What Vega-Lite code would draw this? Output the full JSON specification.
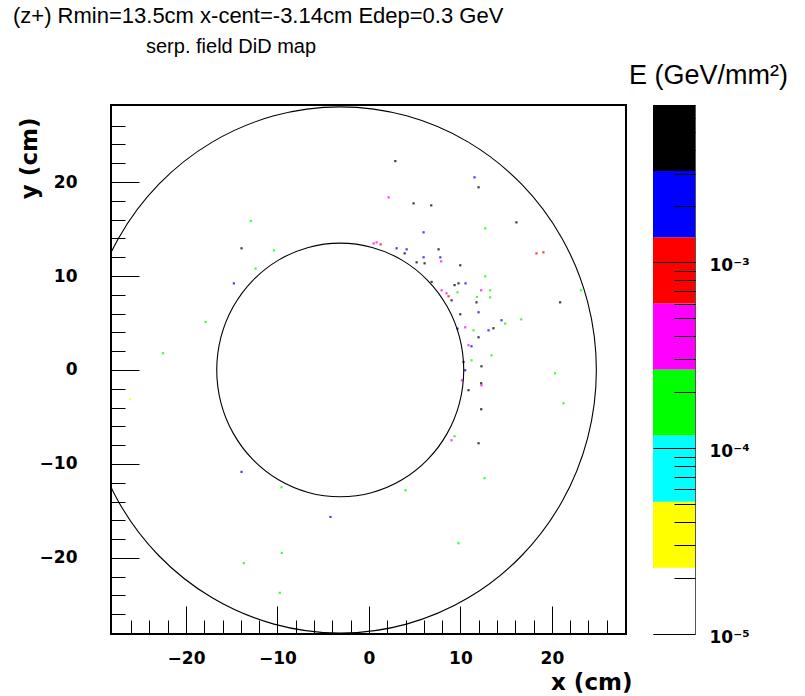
{
  "$schema": "https://vega.github.io/schema/vega-lite/v6.json",
  "background": "white",
  "padding": {"left": 12, "top": 5, "right": 5, "bottom": 0},
  "title": {"text": "(z+) Rmin=13.5cm x-cent=-3.14cm Edep=0.3 GeV", "anchor": "start", "dx": -4, "offset": 8, "fontSize": 22, "font": "Liberation Sans", "fontWeight": "normal", "color": "black"},
  "spacing": -5,
  "resolve": {"scale": {"color": "independent"}},
  "datasets": {
    "circles": [
      {"c": "in", "i": 0, "x": 10.36, "y": 0}, {"c": "in", "i": 1, "x": 9.9, "y": 3.494}, {"c": "in", "i": 2, "x": 8.551, "y": 6.75}, {"c": "in", "i": 3, "x": 6.406, "y": 9.546},
      {"c": "in", "i": 4, "x": 3.61, "y": 11.691}, {"c": "in", "i": 5, "x": 0.354, "y": 13.04}, {"c": "in", "i": 6, "x": -3.14, "y": 13.5}, {"c": "in", "i": 7, "x": -6.634, "y": 13.04},
      {"c": "in", "i": 8, "x": -9.89, "y": 11.691}, {"c": "in", "i": 9, "x": -12.686, "y": 9.546}, {"c": "in", "i": 10, "x": -14.831, "y": 6.75}, {"c": "in", "i": 11, "x": -16.18, "y": 3.494},
      {"c": "in", "i": 12, "x": -16.64, "y": 0}, {"c": "in", "i": 13, "x": -16.18, "y": -3.494}, {"c": "in", "i": 14, "x": -14.831, "y": -6.75}, {"c": "in", "i": 15, "x": -12.686, "y": -9.546},
      {"c": "in", "i": 16, "x": -9.89, "y": -11.691}, {"c": "in", "i": 17, "x": -6.634, "y": -13.04}, {"c": "in", "i": 18, "x": -3.14, "y": -13.5}, {"c": "in", "i": 19, "x": 0.354, "y": -13.04},
      {"c": "in", "i": 20, "x": 3.61, "y": -11.691}, {"c": "in", "i": 21, "x": 6.406, "y": -9.546}, {"c": "in", "i": 22, "x": 8.551, "y": -6.75}, {"c": "in", "i": 23, "x": 9.9, "y": -3.494},
      {"c": "out", "i": 0, "x": 24.86, "y": 0}, {"c": "out", "i": 1, "x": 23.906, "y": 7.247}, {"c": "out", "i": 2, "x": 21.109, "y": 14}, {"c": "out", "i": 3, "x": 16.659, "y": 19.799},
      {"c": "out", "i": 4, "x": 10.86, "y": 24.249}, {"c": "out", "i": 5, "x": 4.107, "y": 27.046}, {"c": "out", "i": 6, "x": -3.14, "y": 28}, {"c": "out", "i": 7, "x": -10.387, "y": 27.046},
      {"c": "out", "i": 8, "x": -17.14, "y": 24.249}, {"c": "out", "i": 9, "x": -22.939, "y": 19.799}, {"c": "out", "i": 10, "x": -27.389, "y": 14}, {"c": "out", "i": 11, "x": -30.186, "y": 7.247},
      {"c": "out", "i": 12, "x": -31.14, "y": 0}, {"c": "out", "i": 13, "x": -30.186, "y": -7.247}, {"c": "out", "i": 14, "x": -27.389, "y": -14}, {"c": "out", "i": 15, "x": -22.939, "y": -19.799},
      {"c": "out", "i": 16, "x": -17.14, "y": -24.249}, {"c": "out", "i": 17, "x": -10.387, "y": -27.046}, {"c": "out", "i": 18, "x": -3.14, "y": -28}, {"c": "out", "i": 19, "x": 4.107, "y": -27.046},
      {"c": "out", "i": 20, "x": 10.86, "y": -24.249}, {"c": "out", "i": 21, "x": 16.659, "y": -19.799}, {"c": "out", "i": 22, "x": 21.109, "y": -14}, {"c": "out", "i": 23, "x": 23.906, "y": -7.247}
    ],
    "hits": [
      {"x": 2.88, "y": 22.23, "e": 0.004}, {"x": 11.54, "y": 20.5, "e": 0.002}, {"x": 11.98, "y": 19.44, "e": 0.004}, {"x": 2.15, "y": 18.37, "e": 0.0004},
      {"x": 4.88, "y": 17.73, "e": 0.004}, {"x": 6.81, "y": 17.52, "e": 0.004}, {"x": 5.97, "y": 14.65, "e": 0.002}, {"x": 12.71, "y": 15.07, "e": 0.00015},
      {"x": 16.12, "y": 15.71, "e": 0.004}, {"x": 0.51, "y": 13.47, "e": 0.0004}, {"x": 0.84, "y": 13.58, "e": 0.0004}, {"x": 1.28, "y": 13.37, "e": 0.001},
      {"x": 3.02, "y": 12.95, "e": 0.002}, {"x": 3.9, "y": 12.41, "e": 0.004}, {"x": 4.12, "y": 12.84, "e": 0.002}, {"x": 5.21, "y": 11.46, "e": 0.004},
      {"x": 5.97, "y": 11.99, "e": 0.002}, {"x": 6.08, "y": 11.35, "e": 0.004}, {"x": 7.61, "y": 12.84, "e": 0.004}, {"x": 7.8, "y": 11.99, "e": 0.002},
      {"x": 7.9, "y": 11.56, "e": 0.0004}, {"x": 9.98, "y": 11.14, "e": 0.004}, {"x": 18.31, "y": 12.41, "e": 0.001}, {"x": 19.07, "y": 12.52, "e": 0.001},
      {"x": 12.71, "y": 9.97, "e": 0.0002}, {"x": 7.94, "y": 8.48, "e": 0.0004}, {"x": 8.48, "y": 8.16, "e": 0.0004}, {"x": 9.03, "y": 7.41, "e": 0.004},
      {"x": 8.7, "y": 7.84, "e": 0.001}, {"x": 9.68, "y": 8.27, "e": 0.0002}, {"x": 9.79, "y": 9.22, "e": 0.004}, {"x": 10.56, "y": 9.22, "e": 0.002},
      {"x": 12.27, "y": 8.48, "e": 0.0004}, {"x": 13.25, "y": 8.48, "e": 0.00015}, {"x": 13.25, "y": 7.73, "e": 0.0002}, {"x": 11.76, "y": 7.2, "e": 0.004},
      {"x": 9.98, "y": 5.93, "e": 0.004}, {"x": 11.98, "y": 6.14, "e": 0.002}, {"x": 16.64, "y": 5.39, "e": 0.0002}, {"x": 20.9, "y": 7.2, "e": 0.004},
      {"x": 14.49, "y": 5.29, "e": 0.002}, {"x": 10.52, "y": 4.54, "e": 0.0004}, {"x": 11.43, "y": 4.22, "e": 0.00015}, {"x": 11.98, "y": 3.48, "e": 0.004},
      {"x": 13.07, "y": 4.22, "e": 0.002}, {"x": 13.61, "y": 4.44, "e": 0.004}, {"x": 10.88, "y": 2.63, "e": 0.0004}, {"x": 11.21, "y": 2.52, "e": 0.002},
      {"x": 13.39, "y": 1.56, "e": 0.0002}, {"x": 11.21, "y": 1.03, "e": 0.00015}, {"x": 12.3, "y": 0.39, "e": 0.004}, {"x": 20.35, "y": -0.35, "e": 0.00015},
      {"x": 23.19, "y": 8.48, "e": 0.0002}, {"x": 10.52, "y": -0.03, "e": 0.002}, {"x": 12.27, "y": -1.41, "e": 0.004}, {"x": 12.3, "y": -1.63, "e": 0.0004},
      {"x": 12.27, "y": -4.18, "e": 0.004}, {"x": 21.26, "y": -3.54, "e": 0.0002}, {"x": 9.03, "y": -7.48, "e": 0.0004}, {"x": 9.36, "y": -7.05, "e": 0.00015},
      {"x": 11.98, "y": -7.8, "e": 0.004}, {"x": 12.63, "y": -11.52, "e": 0.0002}, {"x": 4.0, "y": -12.8, "e": 0.00015}, {"x": -4.21, "y": -15.64, "e": 0.002},
      {"x": 9.79, "y": -18.44, "e": 0.0002}, {"x": -12.92, "y": 15.85, "e": 0.00015}, {"x": -13.93, "y": 12.95, "e": 0.004}, {"x": -10.4, "y": 12.73, "e": 0.0002},
      {"x": -14.77, "y": 9.22, "e": 0.002}, {"x": -17.86, "y": 5.11, "e": 0.0002}, {"x": -22.52, "y": 1.78, "e": 0.00015}, {"x": -26.12, "y": -3.12, "e": 0.00003},
      {"x": -13.93, "y": -10.85, "e": 0.002}, {"x": -9.56, "y": -12.48, "e": 0.0002}, {"x": -9.53, "y": -19.47, "e": 0.00015}, {"x": -13.68, "y": -20.56, "e": 0.0002},
      {"x": -9.75, "y": -23.72, "e": 0.00015}, {"x": -12.4, "y": 10.79, "e": 0.0002}, {"x": 6.85, "y": 9.37, "e": 0.004}, {"x": 9.36, "y": 9.03, "e": 0.004},
      {"x": 10.16, "y": -1.1, "e": 0.0004}, {"x": 10.88, "y": -2.15, "e": 0.004}, {"x": 11.8, "y": 7.77, "e": 0.0002}, {"x": 14.89, "y": 4.94, "e": 0.00015},
      {"x": 9.68, "y": 4.4, "e": 0.002}, {"x": 10.34, "y": 0.85, "e": 0.004}
    ],
    "bands": [
      {"lo": 0.00001, "hi": 0.0000227, "mid": 0.000015},
      {"lo": 0.0000227, "hi": 0.0000515, "mid": 0.000034},
      {"lo": 0.0000515, "hi": 0.000117, "mid": 0.000078},
      {"lo": 0.000117, "hi": 0.000265, "mid": 0.000176},
      {"lo": 0.000265, "hi": 0.000601, "mid": 0.0004},
      {"lo": 0.000601, "hi": 0.001365, "mid": 0.0009},
      {"lo": 0.001365, "hi": 0.003097, "mid": 0.002},
      {"lo": 0.003097, "hi": 0.00702, "mid": 0.0047}
    ]
  },
  "hconcat": [
    {
      "width": 515,
      "height": 529,
      "view": {"stroke": "black", "strokeWidth": 2},
      "title": {"text": "serp. field DiD map", "anchor": "start", "frame": "group", "dx": 35, "offset": 48, "fontSize": 20, "font": "Liberation Sans", "fontWeight": "normal", "color": "black"},
      "encoding": {
        "x": {"field": "x", "type": "quantitative",
          "scale": {"domain": [-28.2, 28.1], "nice": false, "zero": false},
          "axis": {
            "zindex": 1,
            "values": [-26, -24, -22, -20, -18, -16, -14, -12, -10, -8, -6, -4, -2, 0, 2, 4, 6, 8, 10, 12, 14, 16, 18, 20, 22, 24, 26],
            "tickSize": {"condition": {"test": "datum.value % 10 === 0", "value": -28}, "value": -14},
            "labelExpr": "datum.value % 10 === 0 ? datum.label : ''",
            "labelPadding": 44,
            "labelFlush": false,
            "labelOverlap": false,
            "labelSeparation": -40,
            "title": "x (cm)",
            "titleFontSize": 23,
            "titleFontWeight": "bold",
            "titleAlign": "right",
            "titleAnchor": "end",
            "titleX": 521,
            "titleY": 37,
            "titleBaseline": "top"
          }
        },
        "y": {"field": "y", "type": "quantitative",
          "scale": {"domain": [-28.1, 28.2], "nice": false, "zero": false},
          "axis": {
            "zindex": 1,
            "values": [-26, -24, -22, -20, -18, -16, -14, -12, -10, -8, -6, -4, -2, 0, 2, 4, 6, 8, 10, 12, 14, 16, 18, 20, 22, 24, 26],
            "tickSize": {"condition": {"test": "datum.value % 10 === 0", "value": -28}, "value": -14},
            "labelExpr": "datum.value % 10 === 0 ? datum.label : ''",
            "labelPadding": 62,
            "labelFlush": false,
            "labelOverlap": false,
            "labelSeparation": -40,
            "title": "y (cm)",
            "titleFontSize": 23,
            "titleFontWeight": "bold",
            "titleAngle": -90,
            "titleAlign": "right",
            "titleAnchor": "end",
            "titleBaseline": "bottom",
            "titleX": -70,
            "titleY": 12
          }
        }
      },
      "layer": [
        {
          "data": {"name": "hits"},
          "mark": {"type": "square", "size": 5, "opacity": 0.75, "strokeWidth": 0},
          "encoding": {
            "color": {"field": "e", "type": "quantitative",
              "scale": {"type": "threshold", "domain": [0.0000227, 0.0000515, 0.000117, 0.000265, 0.000601, 0.001365, 0.003097],
                "range": ["#ffffff", "#ffff00", "#00ffff", "#00ff00", "#ff00ff", "#ff0000", "#0000ff", "#000000"]},
              "legend": null}
          }
        },
        {
          "data": {"name": "circles"},
          "mark": {"type": "line", "interpolate": "cardinal-closed", "tension": 0, "color": "black", "strokeWidth": 1.1, "clip": true},
          "encoding": {
            "detail": {"field": "c", "type": "nominal"},
            "order": {"field": "i", "type": "quantitative"}
          }
        }
      ]
    },
    {
      "width": 42,
      "height": 529,
      "view": {"stroke": "#555555", "strokeWidth": 1},
      "data": {"name": "bands"},
      "title": {"text": "E (GeV/mm²)", "anchor": "start", "frame": "group", "dx": -24, "offset": 9, "fontSize": 27, "font": "Liberation Sans", "fontWeight": "normal", "color": "black"},
      "mark": {"type": "rect", "strokeWidth": 0},
      "encoding": {
        "y": {"field": "lo", "type": "quantitative",
          "scale": {"type": "log", "domain": [0.00001, 0.00702], "nice": false},
          "axis": {
            "orient": "right",
            "zindex": 1,
            "values": [0.00001, 0.00002, 0.00003, 0.00004, 0.00005, 0.00006, 0.00007, 0.00008, 0.00009, 0.0001, 0.0002, 0.0003, 0.0004, 0.0005, 0.0006, 0.0007, 0.0008, 0.0009, 0.001, 0.002, 0.003, 0.004, 0.005, 0.006, 0.007],
            "tickSize": {"condition": {"test": "abs(log(datum.value)/LN10 - round(log(datum.value)/LN10)) < 0.01", "value": -42}, "value": -21},
            "labelExpr": "abs(log(datum.value)/LN10 - round(log(datum.value)/LN10)) < 0.01 ? (datum.value < 0.00005 ? '10⁻⁵' : datum.value < 0.0005 ? '10⁻⁴' : '10⁻³') : ''",
            "labelPadding": 56,
            "labelFlush": false,
            "labelOverlap": false,
            "labelSeparation": -40,
            "labelOffset": 3,
            "title": null
          }
        },
        "y2": {"field": "hi"},
        "color": {"field": "mid", "type": "quantitative",
          "scale": {"type": "threshold", "domain": [0.0000227, 0.0000515, 0.000117, 0.000265, 0.000601, 0.001365, 0.003097],
            "range": ["#ffffff", "#ffff00", "#00ffff", "#00ff00", "#ff00ff", "#ff0000", "#0000ff", "#000000"]},
          "legend": null}
      }
    }
  ],
  "config": {
    "font": "Liberation Sans",
    "axis": {"labelFont": "DejaVu Sans", "labelFontWeight": "bold", "labelFontSize": 17, "labelColor": "black", "titleFont": "DejaVu Sans", "titleColor": "black", "domain": false, "grid": false, "tickColor": "black", "tickWidth": 1, "labelOverlap": false}
  }
}
